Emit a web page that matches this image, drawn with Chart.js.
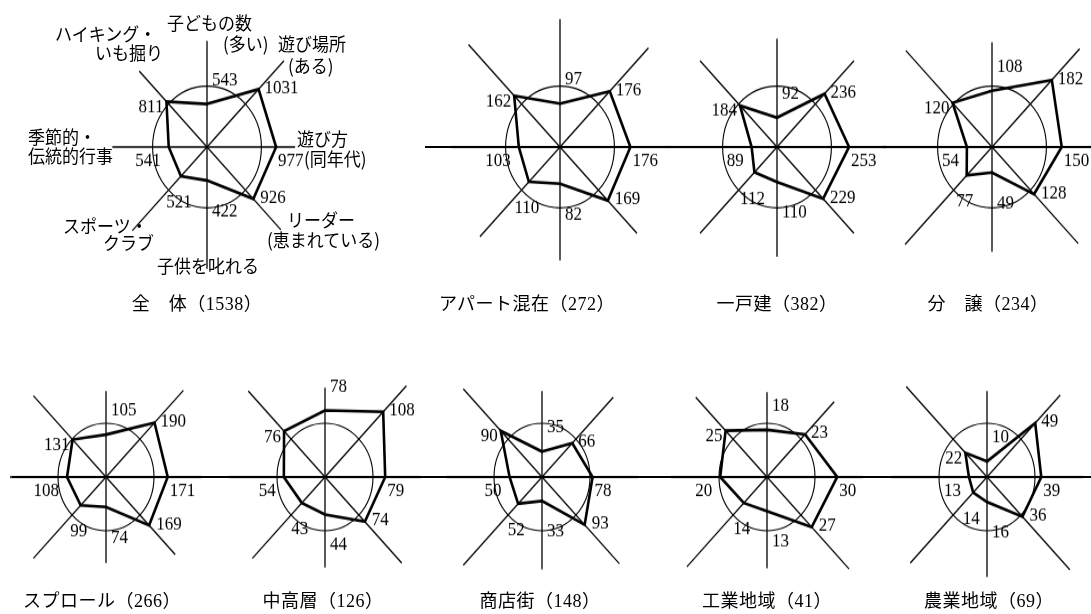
<!DOCTYPE html>
<html lang="ja">
<head>
<meta charset="utf-8">
<title>地域別レーダーチャート</title>
<script src="https://cdn.jsdelivr.net/npm/chart.js@4.4.1/dist/chart.umd.min.js"></script>
<style>
  body { margin: 0; background: #fff; }
  #page { position: relative; width: 1091px; height: 614px; overflow: hidden; color: #000; }
  .box { position: absolute; }
  .box canvas { transform: scaleY(1.12); transform-origin: 50% 50%; }
  .title { position: absolute; font-family: 'Liberation Serif', 'Noto Sans CJK JP', serif; font-size: 18px; line-height: 20px; letter-spacing: 0.5px; white-space: nowrap; transform: translateX(-50%); }
  .cat { position: absolute; font-family: 'Noto Sans CJK JP', sans-serif; font-size: 17px; line-height: 17px; white-space: nowrap; transform: scaleY(1.08); transform-origin: 0 0; }
  .rule { position: absolute; height: 1.3px; background: #000; }
</style>
</head>
<body>
<div id="page"></div>
<script>
// axis order: top, top-right, right, bottom-right, bottom, bottom-left, left, top-left
const categories = ['子どもの数\n(多い)', '遊び場所\n(ある)', '遊び方\n(同年代)', 'リーダー\n(恵まれている)',
                    '子供を叱れる', 'スポーツ・\nクラブ', '季節的・\n伝統的行事', 'ハイキング・\nいも掘り'];
const groups = ['全　体', 'アパート混在', '一戸建', '分　譲', 'スプロール', '中高層', '商店街', '工業地域', '農業地域'];
const totals = [1538, 272, 382, 234, 266, 126, 148, 41, 69];

const zentai   = [543, 1031, 977, 926, 422, 521, 541, 811];
const apart    = [97, 176, 176, 169, 82, 110, 103, 162];
const ikkodate = [92, 236, 253, 229, 110, 112, 89, 184];
const bunjo    = [108, 182, 150, 128, 49, 77, 54, 120];
const sprawl   = [105, 190, 171, 169, 74, 99, 108, 131];
const chukoso  = [78, 108, 79, 74, 44, 43, 54, 76];
const shotengai = [35, 66, 78, 93, 33, 52, 50, 90];
const kogyo    = [18, 23, 30, 27, 13, 14, 20, 25];
const nogyo    = [10, 49, 39, 36, 16, 14, 13, 22];
const counts = [zentai, apart, ikkodate, bunjo, sprawl, chukoso, shotengai, kogyo, nogyo];

// layout: centre of each chart, size of canvas, how far each axis line runs (in ratio units)
const layout = [
  { cx: 207, cy: 147, size: 300, pad: 14, reach: [0.87, 1.0, 0.81, 0.96, 1.0, 0.97, 0.87, 0.88], tx: 197, ty: 294 },
  { cx: 560, cy: 147, size: 300, pad: 14, reach: [1.05, 1.15, 1.0, 1.0, 0.93, 1.04, 1.0, 1.19], tx: 527, ty: 294 },
  { cx: 777, cy: 147, size: 300, pad: 14, reach: [0.89, 1.0, 1.0, 1.0, 0.9, 1.0, 1.0, 1.0], tx: 777, ty: 294 },
  { cx: 992, cy: 147, size: 300, pad: 14, reach: [0.86, 1.14, 1.0, 1.12, 0.86, 1.13, 1.0, 1.12], tx: 988, ty: 294 },
  { cx: 106, cy: 477, size: 260, pad: 10, reach: [0.8, 1.14, 1.0, 1.02, 0.8, 1.07, 1.0, 1.07], tx: 102, ty: 591 },
  { cx: 325, cy: 477, size: 260, pad: 10, reach: [0.83, 1.2, 1.0, 1.13, 0.84, 1.07, 1.0, 1.13], tx: 323, ty: 591 },
  { cx: 542, cy: 477, size: 260, pad: 10, reach: [0.8, 1.05, 1.0, 1.14, 0.86, 1.16, 1.0, 1.16], tx: 540, ty: 591 },
  { cx: 767, cy: 477, size: 260, pad: 10, reach: [0.79, 0.99, 1.0, 1.21, 0.85, 1.18, 1.0, 1.05], tx: 767, ty: 591 },
  { cx: 987, cy: 477, size: 260, pad: 10, reach: [0.8, 1.08, 1.0, 1.22, 0.93, 1.13, 1.0, 1.19], tx: 989, ty: 591 }
];

// where the category names of the first chart sit (one entry per text line)
const catPos = [
  [[167, 13], [223, 34]],
  [[278, 34], [288, 56]],
  [[297, 129], [304, 149]],
  [[287, 210], [267, 230]],
  [[157, 256]],
  [[63, 216], [103, 233]],
  [[28, 127], [28, 146]],
  [[55, 24], [95, 43]]
];

const page = document.getElementById('page');

// long horizontal rules
function addRule(x, y, w) {
  const d = document.createElement('div');
  d.className = 'rule';
  d.style.left = x + 'px';
  d.style.top = (y - 0.65) + 'px';
  d.style.width = w + 'px';
  page.appendChild(d);
}
addRule(425, 147, 666);
addRule(12, 477, 1079);

// place a value label next to its point
function labelSpot(i, p, cx) {
  switch (i) {
    case 0: return { x: cx + 5, y: p.y - 13, align: 'left', base: 'bottom' };
    case 1: return { x: p.x + 6, y: p.y - 1, align: 'left', base: 'middle' };
    case 2: return { x: p.x + 2, y: p.y + 4, align: 'left', base: 'top' };
    case 3: return { x: p.x + 7, y: p.y - 1, align: 'left', base: 'middle' };
    case 4: return { x: cx + 5, y: p.y + 19, align: 'left', base: 'top' };
    case 5: return { x: p.x - 2, y: p.y + 15, align: 'center', base: 'top' };
    case 6: return { x: p.x - 8, y: p.y + 4, align: 'right', base: 'top' };
    default: return { x: p.x - 3, y: p.y + 5, align: 'right', base: 'middle' };
  }
}

const radarDecor = {
  id: 'radarDecor',
  beforeDatasetsDraw(chart, args, opts) {
    const scale = chart.scales.r;
    const ctx = chart.ctx;
    const c = scale.getPointPositionForValue(0, 0);
    ctx.save();
    ctx.strokeStyle = '#000';
    ctx.lineWidth = 1.3;
    opts.reach.forEach((len, i) => {
      const p = scale.getPointPositionForValue(i, len);
      ctx.beginPath();
      ctx.moveTo(c.x, c.y);
      ctx.lineTo(p.x, p.y);
      ctx.stroke();
    });
    ctx.restore();
  },
  afterDatasetsDraw(chart, args, opts) {
    const scale = chart.scales.r;
    const ctx = chart.ctx;
    const data = chart.data.datasets[0].data;
    ctx.save();
    ctx.fillStyle = '#000';
    ctx.font = '17px "Liberation Serif"';
    opts.counts.forEach((n, i) => {
      const p = scale.getPointPositionForValue(i, data[i]);
      const s = labelSpot(i, p, scale.xCenter);
      ctx.textAlign = s.align;
      ctx.textBaseline = s.base;
      ctx.fillText(String(n), s.x, s.y);
    });
    ctx.restore();
  }
};

counts.forEach((vals, k) => {
  const L = layout[k];
  const box = document.createElement('div');
  box.className = 'box';
  box.style.left = (L.cx - L.size / 2) + 'px';
  box.style.top = (L.cy - L.size / 2) + 'px';
  const canvas = document.createElement('canvas');
  canvas.width = L.size;
  canvas.height = L.size;
  box.appendChild(canvas);
  page.appendChild(box);

  new Chart(canvas.getContext('2d'), {
    type: 'radar',
    data: {
      labels: categories,
      datasets: [{
        label: groups[k],
        data: vals.map(v => v / totals[k]),
        borderColor: '#000',
        borderWidth: 2.6,
        fill: false,
        pointRadius: 0,
        tension: 0
      }]
    },
    options: {
      responsive: false,
      animation: false,
      layout: { padding: L.pad },
      plugins: {
        legend: { display: false },
        tooltip: { enabled: false },
        radarDecor: { reach: L.reach, counts: vals }
      },
      scales: {
        r: {
          min: 0,
          max: 1.25,
          startAngle: 0,
          ticks: { display: false, stepSize: 0.5 },
          pointLabels: { display: false },
          angleLines: { display: false },
          grid: {
            circular: true,
            lineWidth: 1.1,
            color: c => (c.tick && c.tick.value === 0.5) ? '#000' : 'rgba(0,0,0,0)'
          }
        }
      }
    },
    plugins: [radarDecor]
  });

  const t = document.createElement('div');
  t.className = 'title';
  t.style.left = L.tx + 'px';
  t.style.top = L.ty + 'px';
  t.textContent = groups[k] + '（' + totals[k] + '）';
  page.appendChild(t);
});

// category names around the first chart
categories.forEach((name, i) => {
  name.split('\n').forEach((line, j) => {
    const d = document.createElement('div');
    d.className = 'cat';
    d.style.left = catPos[i][j][0] + 'px';
    d.style.top = catPos[i][j][1] + 'px';
    d.textContent = line;
    page.appendChild(d);
  });
});
</script>
</body>
</html>
